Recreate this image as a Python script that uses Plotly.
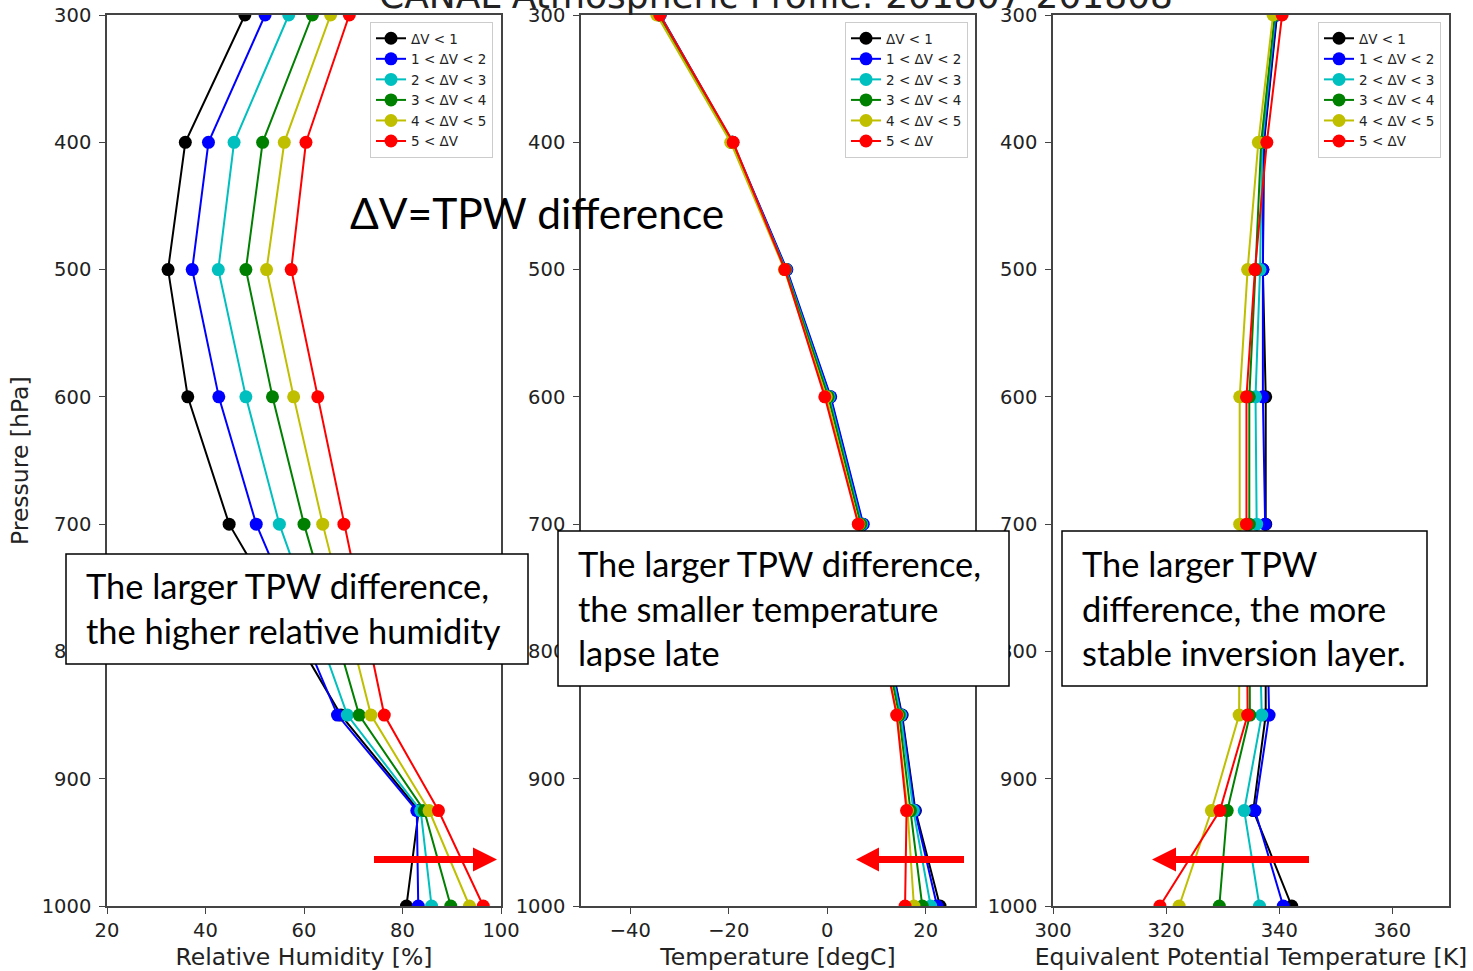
import plotly.graph_objects as go

pressure = [300, 400, 500, 600, 700, 850, 925, 1000]
labels = ["ΔV < 1", "1 < ΔV < 2", "2 < ΔV < 3", "3 < ΔV < 4", "4 < ΔV < 5", "5 < ΔV"]
colors = ["#000000", "#0000ff", "#00bfbf", "#008000", "#bfbf00", "#ff0000"]

rh_lt1 = [48.0, 35.9, 32.4, 36.4, 44.8, 67.5, 83.3, 80.8]
rh_1_2 = [52.1, 40.6, 37.3, 42.7, 50.3, 66.8, 82.9, 83.2]
rh_2_3 = [56.9, 45.8, 42.6, 48.2, 55.0, 68.8, 83.7, 85.9]
rh_3_4 = [61.7, 51.6, 48.2, 53.6, 60.0, 71.2, 84.4, 89.8]
rh_4_5 = [65.4, 56.0, 52.4, 57.9, 63.8, 73.6, 85.4, 93.6]
rh_gt5 = [69.2, 60.4, 57.4, 62.8, 68.1, 76.3, 87.3, 96.4]

t_lt1 = [-34.0, -19.3, -8.3, 0.6, 7.2, 15.2, 17.9, 22.9]
t_1_2 = [-33.9, -19.2, -8.2, 0.7, 7.3, 15.1, 17.8, 22.3]
t_2_3 = [-34.0, -19.3, -8.4, 0.4, 7.0, 14.9, 17.5, 21.0]
t_3_4 = [-34.2, -19.4, -8.5, 0.2, 6.8, 14.6, 16.9, 19.3]
t_4_5 = [-34.6, -19.6, -8.7, -0.2, 6.4, 14.2, 16.3, 17.6]
t_gt5 = [-34.0, -19.1, -8.6, -0.5, 6.3, 14.1, 16.1, 15.8]

te_lt1 = [339.6, 337.3, 337.1, 337.6, 337.6, 337.6, 335.4, 342.2]
te_1_2 = [339.5, 337.2, 337.1, 337.1, 337.5, 338.2, 335.7, 340.7]
te_2_3 = [339.3, 337.0, 336.6, 335.8, 336.0, 336.9, 333.8, 336.5]
te_3_4 = [339.2, 336.8, 335.8, 334.7, 334.7, 334.8, 330.8, 329.4]
te_4_5 = [338.9, 336.3, 334.4, 333.0, 333.0, 332.9, 328.0, 322.3]
te_gt5 = [340.5, 337.8, 335.7, 334.2, 334.2, 334.4, 329.5, 318.9]

rh_series = [rh_lt1, rh_1_2, rh_2_3, rh_3_4, rh_4_5, rh_gt5]
t_series = [t_lt1, t_1_2, t_2_3, t_3_4, t_4_5, t_gt5]
te_series = [te_lt1, te_1_2, te_2_3, te_3_4, te_4_5, te_gt5]

W, H = 1473, 971
TOP, BOT = 15, 906


def px(x):
    return x / W


def py(y):
    return (BOT - y) / (BOT - TOP)


fig = go.Figure()
panels = [(rh_series, "x", "y", "legend"), (t_series, "x2", "y2", "legend2"), (te_series, "x3", "y3", "legend3")]
for series, xa, ya, lg in panels:
    for lab, col, vals in zip(labels, colors, series):
        fig.add_trace(go.Scatter(
            x=vals, y=pressure, xaxis=xa, yaxis=ya, name=lab, legend=lg,
            mode="lines+markers",
            line=dict(color=col, width=2),
            marker=dict(color=col, size=13),
        ))

tickfont = dict(family="DejaVu Sans", size=19.5, color="#222222")
titlefont = dict(family="DejaVu Sans", size=23.5, color="#222222")
common_x = dict(showline=True, linecolor="#444444", linewidth=1.5, mirror=True, showgrid=False,
                zeroline=False, ticks="outside", ticklen=6, tickwidth=1.2, tickcolor="#444444",
                tickfont=tickfont, title_font=titlefont, automargin=False)
common_y = dict(showline=True, linecolor="#444444", linewidth=1.5, mirror=True, showgrid=False,
                zeroline=False, ticks="outside", ticklen=6, tickwidth=1.2, tickcolor="#444444",
                tickfont=tickfont, range=[1000, 300], tickvals=[300, 400, 500, 600, 700, 800, 900, 1000],
                domain=[0, 1], automargin=False, ticklabelstandoff=4)

fig.update_layout(
    width=W, height=H,
    margin=dict(l=0, r=0, t=TOP, b=H - BOT),
    paper_bgcolor="white", plot_bgcolor="white",
    xaxis=dict(domain=[px(107), px(501)], range=[20, 100], tickvals=[20, 40, 60, 80, 100],
               title_text="Relative Humidity [%]", anchor="y", **common_x),
    xaxis2=dict(domain=[px(581), px(975)], range=[-50, 30], tickvals=[-40, -20, 0, 20],
                ticktext=["−40", "−20", "0", "20"],
                title_text="Temperature [degC]", anchor="y2", **common_x),
    xaxis3=dict(domain=[px(1053), px(1449)], range=[300, 370], tickvals=[300, 320, 340, 360],
                title_text="Equivalent Potential Temperature [K]", anchor="y3", **common_x),
    yaxis=dict(anchor="x", **common_y),
    yaxis2=dict(anchor="x2", **common_y),
    yaxis3=dict(anchor="x3", **common_y),
    showlegend=True,
)

# y-axis title of first panel as rotated text
fig.add_annotation(text="Pressure [hPa]", xref="paper", yref="paper", x=px(20), y=py(461),
                   xanchor="center", yanchor="middle", textangle=-90, showarrow=False,
                   font=titlefont)

legfont = dict(family="DejaVu Sans", size=13.5, color="#222222")
for name, right in [("legend", 493), ("legend2", 968), ("legend3", 1441)]:
    fig.update_layout(**{name: dict(
        x=px(right), xanchor="right", y=py(22), yanchor="top",
        bgcolor="rgba(255,255,255,0.9)", bordercolor="#cccccc", borderwidth=1,
        font=legfont, itemwidth=30, tracegroupgap=0,
    )})

# Title (partially cut at top as in reference)
fig.add_annotation(text="CANAL Atmospheric Profile: 201807-201808", xref="paper", yref="paper",
                   x=px(776), y=py(18), xanchor="center", yanchor="bottom", showarrow=False,
                   font=dict(family="DejaVu Sans", size=36, color="#222222"))

fig.add_annotation(text="ΔV=TPW difference", xref="paper", yref="paper",
                   x=px(348), y=py(212), xanchor="left", yanchor="middle", showarrow=False,
                   font=dict(family="Lato", size=42.5, color="black"))

boxes = [
    (66, 554, 528, 664, "The larger TPW difference,<br>the higher relative humidity"),
    (558, 531, 1009, 686, "The larger TPW difference,<br>the smaller temperature<br>lapse late"),
    (1062, 531, 1427, 686, "The larger TPW<br>difference, the more<br>stable inversion layer."),
]
for x0, y0, x1, y1, txt in boxes:
    fig.add_shape(type="rect", xref="paper", yref="paper", x0=px(x0), x1=px(x1), y0=py(y1), y1=py(y0),
                  line=dict(color="black", width=1.5), fillcolor="white", layer="above")
    fig.add_annotation(text=txt, xref="paper", yref="paper", x=px(x0 + 18), y=py((y0 + y1) / 2 - 1),
                       xanchor="left", yanchor="middle", align="left", showarrow=False,
                       font=dict(family="Lato", size=34.4, color="black"))

# red arrows (tail, base of head, tip) in pixels
arrows = [(374, 473, 497), (964, 879, 856), (1309, 1176, 1152)]
ay = 859.5
for tail, base, tip in arrows:
    fig.add_shape(type="line", xref="paper", yref="paper", x0=px(tail), x1=px(base), y0=py(ay), y1=py(ay),
                  line=dict(color="#ff0000", width=7), layer="above")
    path = f"M {px(base)},{py(ay - 12)} L {px(tip)},{py(ay)} L {px(base)},{py(ay + 12)} Z"
    fig.add_shape(type="path", xref="paper", yref="paper", path=path,
                  line=dict(color="#ff0000", width=0), fillcolor="#ff0000", layer="above")

fig.write_html("out.html")
